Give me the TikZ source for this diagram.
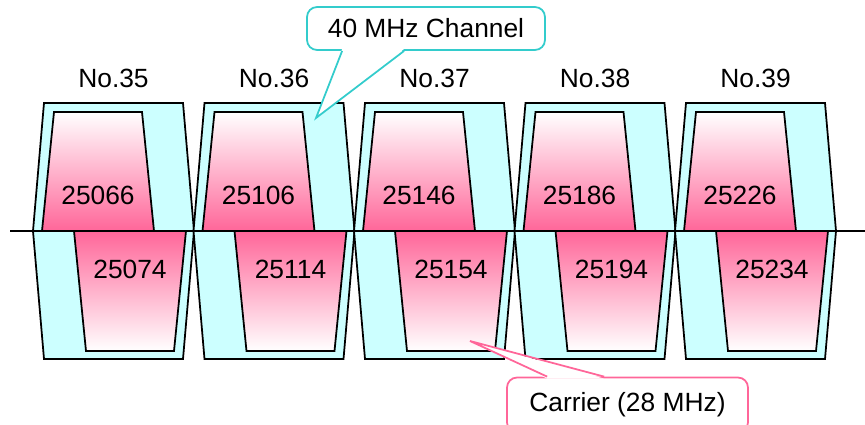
\documentclass[tikz,border=0pt]{standalone}
\usepackage{fontspec}
\setmainfont{Liberation Sans}
\usepackage{tikz}
\usetikzlibrary{calc,positioning}
\definecolor{chanfill}{HTML}{CCFFFF}
\definecolor{chanline}{HTML}{33CCCC}
\definecolor{carrpink}{HTML}{FF6699}

\begin{document}
\begin{tikzpicture}[
    x=0.02cm, y=-0.02cm,
    chan/.style={draw, line width=1pt, fill=chanfill},
    upcarr/.style={draw, line width=1pt, top color=white, middle color=carrpink!55, bottom color=carrpink},
    locarr/.style={draw, line width=1pt, top color=carrpink, middle color=carrpink!55, bottom color=white},
    num/.style={font=\fontsize{15}{18}\selectfont, inner sep=0pt},
    callout/.style={draw, line width=1pt, fill=white, rounded corners=0.2cm, font=\fontsize{15}{18}\selectfont}
]
  \clip (0,0) rectangle (865,425);

  % Channels and carriers
  \foreach \no/\up/\lo [count=\i from 0] in {35/25066/25074, 36/25106/25114, 37/25146/25154, 38/25186/25194, 39/25226/25234} {
    \pgfmathsetmacro{\L}{44+160.5*\i}
    \draw[chan] (\L,103) -- ++(139,0) -- ++(11,128) -- ++(-11,128) -- ++(-139,0) -- ++(-11,-128) -- cycle;
    \draw[upcarr] (\L+10,112) -- (\L+98,112) -- (\L+110,231) -- (\L-2,231) -- cycle;
    \draw[locarr] (\L+30,231) -- (\L+142,231) -- (\L+130,351) -- (\L+42,351) -- cycle;
    \node[num] (no\no) at (\L+69.5,78) {No.\no};
    \node[num] (f\up) at (\L+54,195) {\up};
    \node[num] (f\lo) at (\L+86,269) {\lo};
  }

  % Axis
  \coordinate (axisL) at (10,231);
  \coordinate (axisR) at (865,231);
  \draw[line width=1pt] (axisL) -- (axisR);

  % Callouts
  \coordinate (chtip) at (316,118);
  \coordinate (carrtip) at (470,341);
  \node[callout, draw=chanline, minimum width=4.76cm, minimum height=0.86cm] (chanbox) at (426,28.5) {40 MHz Channel};
  \node[callout, draw=carrpink, minimum width=4.82cm, minimum height=1.1cm] (carrbox) at (627.5,405) {Carrier (28 MHz)};

  \fill[white] ($(chanbox.south west)+(36,-2)$) -- (chtip) -- ($(chanbox.south west)+(98,-2)$) -- cycle;
  \draw[chanline, line width=1pt] ($(chanbox.south west)+(36,0)$) -- (chtip) -- ($(chanbox.south west)+(98,0)$);
  \fill[white] ($(carrbox.north west)+(41,2)$) -- (carrtip) -- ($(carrbox.north west)+(98,2)$) -- cycle;
  \draw[carrpink, line width=1pt] ($(carrbox.north west)+(41,0)$) -- (carrtip) -- ($(carrbox.north west)+(98,0)$);
\end{tikzpicture}
\end{document}
